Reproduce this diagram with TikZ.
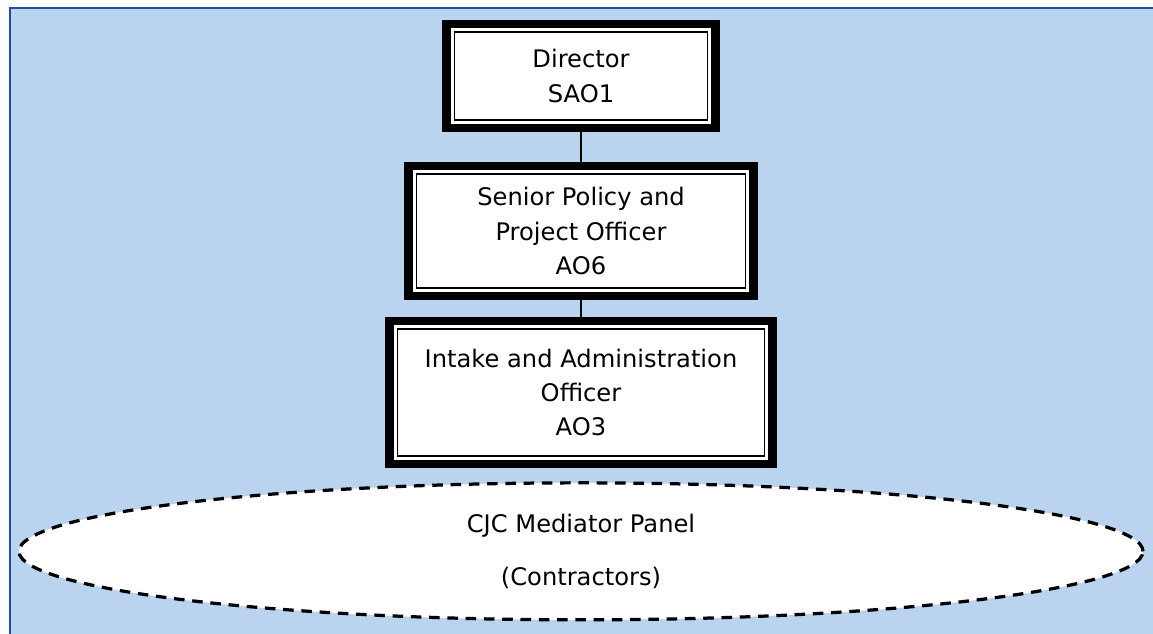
\documentclass[tikz,border=0pt]{standalone}
\usepackage{fontspec}
\setmainfont{DejaVu Sans}
\usetikzlibrary{positioning,shapes.geometric}

\definecolor{chartblue}{RGB}{186,211,239}
\definecolor{frameblue}{RGB}{35,75,165}

\begin{document}
\begin{tikzpicture}[
  node distance=7.5mm,
  post/.style={draw, line width=5.7pt, fill=white, align=center, inner sep=0pt,
    font=\fontsize{17.2}{24.5}\selectfont,
    path picture={\draw[line width=1.4pt]
      ([shift={(0.2cm,0.2cm)}]path picture bounding box.south west) rectangle
      ([shift={(-0.2cm,-0.2cm)}]path picture bounding box.north east);}},
  panel/.style={ellipse, draw, fill=white, line width=2.3pt, dash pattern=on 7.5pt off 5.5pt,
    align=center, inner sep=0pt, font=\fontsize{17.2}{24.5}\selectfont},
  link/.style={draw, line width=1.4pt}]
\useasboundingbox (0,0) rectangle (28.825,-15.85);
% page and blue chart area
\fill[white] (0,0) rectangle (28.825,-15.85);
\draw[frameblue, line width=1.2pt, fill=chartblue] (0.25,-0.2) rectangle (29.2,-16.2);

\node[post, minimum width=6.725cm, minimum height=2.6cm] (director) at (14.525,-1.9)
  {Director\\SAO1};
\node[post, minimum width=8.625cm, minimum height=3.25cm, below=7.5mm of director] (senior)
  {Senior Policy and\\Project Officer\\AO6};
\node[post, minimum width=9.575cm, minimum height=3.575cm, below=4.25mm of senior] (intake)
  {Intake and Administration\\Officer\\AO3};
\node[panel, minimum width=28.1cm, minimum height=3.425cm, below=3.3mm of intake] (mediators)
  {CJC Mediator Panel\\[13pt](Contractors)};

\draw[link] (director) -- (senior);
\draw[link] (senior) -- (intake);
\end{tikzpicture}
\end{document}
